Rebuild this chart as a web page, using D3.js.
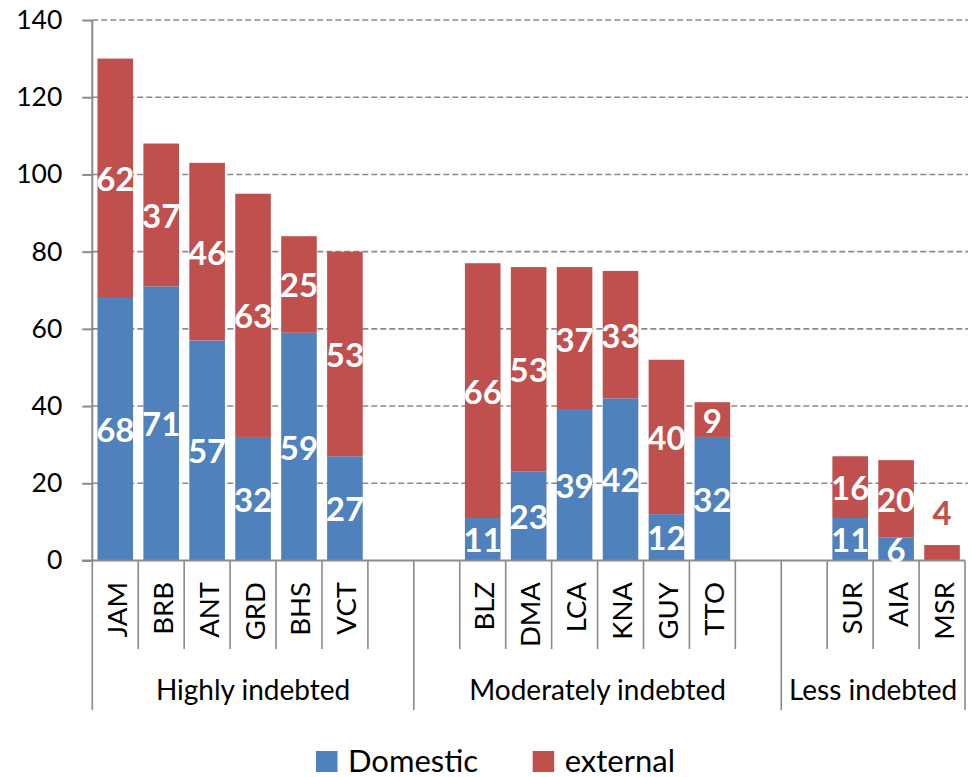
<!DOCTYPE html>
<html>
<head>
<meta charset="utf-8">
<script src="https://cdn.jsdelivr.net/npm/d3@7"></script>
<style>
  html, body { margin: 0; padding: 0; background: #fff; }
  svg { display: block; font-family: Lato, "Open Sans", sans-serif; }
</style>
</head>
<body>
<svg id="chart" width="975" height="777"></svg>
<script>
// Debt stocks by country, split into domestic and external parts
const categories = ["JAM","BRB","ANT","GRD","BHS","VCT","BLZ","DMA","LCA","KNA","GUY","TTO","SUR","AIA","MSR"];
const domestic   = [68, 71, 57, 32, 59, 27, 11, 23, 39, 42, 12, 32, 11, 6, 0];
const external   = [62, 37, 46, 63, 25, 53, 66, 53, 37, 33, 40, 9, 16, 20, 4];

// Category axis rows (empty entries are spacer rows) and the group each row block belongs to
const axisRows   = ["JAM","BRB","ANT","GRD","BHS","VCT","",
                    "","BLZ","DMA","LCA","KNA","GUY","TTO","",
                    "","SUR","AIA","MSR"];
const groupNames = ["Highly indebted", "Moderately indebted", "Less indebted"];
const groupFirstRow = [0, 7, 15];

const yTicks = [0, 20, 40, 60, 80, 100, 120, 140];
const seriesNames = ["Domestic", "external"];
const colors = {Domestic: "#4F81BD", external: "#C0504D"};

const svg = d3.select("#chart");
const plotLeft = 92.3, plotRight = 965, plotTop = 20, plotBottom = 560.5;

const x = d3.scaleBand().domain(d3.range(axisRows.length)).range([plotLeft, plotRight]).paddingInner(0).paddingOuter(0);
const y = d3.scaleLinear().domain([0, 140]).range([plotBottom, plotTop]);
const barW = x.bandwidth() * 0.775;

// Gridlines
svg.append("g").selectAll("line").data(yTicks.filter(t => t > 0)).join("line")
  .attr("x1", plotLeft).attr("x2", plotRight + 3)
  .attr("y1", d => y(d)).attr("y2", d => y(d))
  .attr("stroke", "#8a8a8a").attr("stroke-width", 1.6).attr("stroke-dasharray", "6,3");

// Y axis
const yAxis = svg.append("g").attr("transform", `translate(${plotLeft},0)`)
  .call(d3.axisLeft(y).tickValues(yTicks).tickSize(10).tickPadding(20));
yAxis.select(".domain").attr("stroke", "#8a8a8a").attr("stroke-width", 2).attr("d", `M0,${y(140)}V${plotBottom}`);
yAxis.selectAll(".tick line").attr("stroke", "#8a8a8a").attr("stroke-width", 2);
yAxis.selectAll(".tick text").attr("fill", "#000").style("font-size", "26.5px").style("font-family", "Lato, sans-serif");

// Stacked bars
const rows = categories.map((c, i) => ({cat: c, Domestic: domestic[i], external: external[i]}));
const stack = d3.stack().keys(seriesNames)(rows);
const slotOf = c => axisRows.indexOf(c);

const layers = svg.append("g").selectAll("g").data(stack).join("g")
  .attr("fill", d => colors[d.key]);
layers.selectAll("rect").data(d => d).join("rect")
  .attr("x", d => x(slotOf(d.data.cat)) + (x.bandwidth() - barW) / 2)
  .attr("width", barW)
  .attr("y", d => y(d[1]))
  .attr("height", d => y(d[0]) - y(d[1]));

// X axis baseline
svg.append("line").attr("x1", 82).attr("x2", plotRight).attr("y1", plotBottom).attr("y2", plotBottom)
  .attr("stroke", "#8a8a8a").attr("stroke-width", 2);

// Row dividers and group dividers
const boundaries = d3.range(axisRows.length + 1);
const groupBounds = groupFirstRow.concat([axisRows.length]);
const edge = i => i < axisRows.length ? x(i) : plotRight;
svg.append("g").selectAll("line").data(boundaries).join("line")
  .attr("x1", edge).attr("x2", edge)
  .attr("y1", plotBottom)
  .attr("y2", i => groupBounds.includes(i) ? 710 : 649)
  .attr("stroke", "#8a8a8a").attr("stroke-width", 1.6);

// Category labels (rotated)
svg.append("g").selectAll("text").data(axisRows.map((r, i) => ({r, i})).filter(d => d.r)).join("text")
  .attr("transform", d => `translate(${x(d.i) + x.bandwidth() / 2 + 1},582) rotate(-90)`)
  .attr("text-anchor", "end").attr("dominant-baseline", "central")
  .style("font-size", "27.5px").text(d => d.r);

// Group labels
svg.append("g").selectAll("text").data(groupNames).join("text")
  .attr("x", (g, i) => (edge(groupBounds[i]) + edge(groupBounds[i + 1])) / 2)
  .attr("y", 700).attr("text-anchor", "middle")
  .style("font-size", "28px").text(d => d);

// Value labels centred in each segment; small segments sit above the bar in series colour
const labels = [];
stack.forEach(s => s.forEach(d => {
  const v = d[1] - d[0];
  if (v <= 0) return;
  const small = v < 5;
  labels.push({
    x: x(slotOf(d.data.cat)) + x.bandwidth() / 2,
    y: small ? y(d[1]) - 33 : y((d[0] + d[1]) / 2),
    text: v,
    fill: small ? colors[s.key] : "#fff"
  });
}));
svg.append("g").selectAll("text").data(labels).join("text")
  .attr("x", d => d.x).attr("y", d => d.y)
  .attr("text-anchor", "middle").attr("dominant-baseline", "central")
  .attr("fill", d => d.fill)
  .style("font-size", "33px").style("font-weight", "bold")
  .text(d => d.text);

// Legend
const legendX = [316, 532.7];
const lg = svg.append("g").selectAll("g").data(seriesNames).join("g")
  .attr("transform", (d, i) => `translate(${legendX[i]},751)`);
lg.append("rect").attr("width", 21.5).attr("height", 21).attr("fill", d => colors[d]);
lg.append("text").attr("x", 32).attr("y", 20.5).style("font-size", "31px").text(d => d);
</script>
</body>
</html>
